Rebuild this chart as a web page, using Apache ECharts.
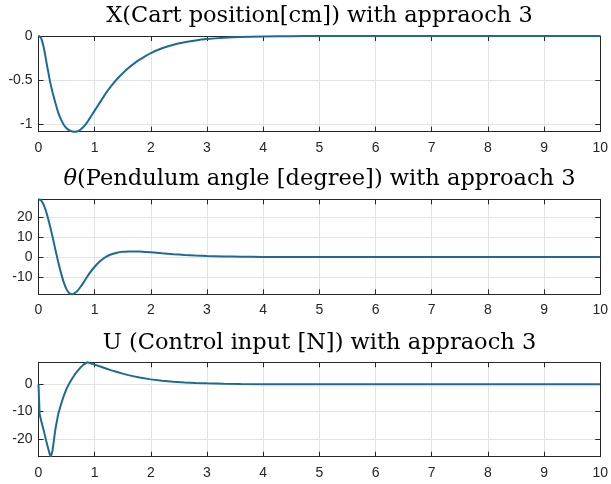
<!DOCTYPE html>
<html>
<head>
<meta charset="utf-8">
<script src="https://cdn.jsdelivr.net/npm/echarts@6/dist/echarts.min.js"></script>
<style>
  html, body { margin: 0; padding: 0; background: #fff; }
  #chart { width: 611px; height: 484px; }
</style>
</head>
<body>
<div id="chart"></div>
<script>
// Simulation time [s]
const timeS = [0, 0.02, 0.05, 0.1, 0.15, 0.2, 0.22, 0.25, 0.3, 0.35, 0.4, 0.45, 0.5, 0.55, 0.6,
  0.65, 0.7, 0.75, 0.8, 0.87, 0.9, 1.0, 1.1, 1.2, 1.3, 1.4, 1.5, 1.6, 1.7, 1.8, 2.0, 2.2, 2.4,
  2.6, 2.8, 3.0, 3.3, 3.6, 4.0, 4.5, 5, 6, 7, 8, 9, 10];

// Cart position [cm]
const cartPosition = [0, -0.005, -0.03, -0.15, -0.33, -0.50, -0.56, -0.64, -0.76, -0.87, -0.95,
  -1.01, -1.05, -1.075, -1.088, -1.09, -1.085, -1.065, -1.035, -0.98, -0.95, -0.85, -0.75, -0.65,
  -0.565, -0.49, -0.425, -0.365, -0.315, -0.27, -0.195, -0.14, -0.10, -0.072, -0.05, -0.035,
  -0.02, -0.011, -0.005, -0.002, -0.001, 0, 0, 0, 0, 0];

// Pendulum angle [degree]
const pendulumAngle = [29.1, 29.0, 28.4, 25.8, 21.6, 16.2, 13.9, 10.2, 3.8, -2.4, -8.0, -12.8,
  -16.3, -18.3, -18.8, -18.1, -16.8, -15.0, -12.9, -9.8, -8.5, -4.9, -2.0, 0.1, 1.4, 2.2, 2.6,
  2.75, 2.8, 2.75, 2.4, 1.9, 1.45, 1.05, 0.75, 0.5, 0.28, 0.15, 0.06, 0.02, 0.01, 0, 0, 0, 0, 0];

// Control input [N]
const controlInput = [0, -11, -13.5, -17.5, -21.8, -25.6, -26.5, -24.2, -16.5, -11, -7.4, -4.2,
  -1.6, 0.4, 2.1, 3.7, 5.0, 6.2, 7.2, 8.05, 7.9, 7.2, 6.5, 5.8, 5.1, 4.5, 3.9, 3.35, 2.9, 2.45,
  1.8, 1.3, 0.95, 0.7, 0.5, 0.36, 0.22, 0.13, 0.06, 0.02, 0.01, 0, 0, 0, 0, 0];

// Tick positions
const timeTicks = [0, 1, 2, 3, 4, 5, 6, 7, 8, 9, 10];
const cartTicks = [-1, -0.5, 0];
const angleTicks = [-10, 0, 10, 20];
const inputTicks = [-20, -10, 0];

// Subplot titles
const titles = [
  'X(Cart position[cm]) with appraoch 3',
  '{m|θ}(Pendulum angle [degree]) with approach 3',
  'U (Control input [N]) with appraoch 3'
];

const lineColor = '#1c6b96';
const axisColor = '#262626';
const gridColor = '#e3e3e3';
const titleFont = 'DejaVu Serif';
const tickFont = 'Liberation Sans';

const panels = [
  { values: cartPosition, ticks: cartTicks, top: 36, height: 95.7, titleTop: 4 },
  { values: pendulumAngle, ticks: angleTicks, top: 199.3, height: 95, titleTop: 167.4 },
  { values: controlInput, ticks: inputTicks, top: 362.3, height: 94.4, titleTop: 330.7 }
];

const grid = [], xAxis = [], yAxis = [], series = [], title = [];

panels.forEach((p, i) => {
  grid.push({ left: 38.5, right: 10.5, top: p.top, height: p.height, containLabel: false });
  const yMin = Math.min(...p.values);
  const yMax = Math.max(...p.values);

  title.push({
    text: titles[i],
    left: 319.5,
    top: p.titleTop,
    textAlign: 'center',
    padding: 0,
    textStyle: {
      fontFamily: titleFont,
      fontSize: 22.5,
      fontWeight: 'normal',
      color: '#000',
      lineHeight: 24,
      rich: { m: { fontFamily: titleFont, fontSize: 22.5, fontStyle: 'italic', color: '#000' } }
    }
  });

  const frameLine = { show: true, onZero: false, lineStyle: { color: axisColor, width: 1 } };

  const xBase = {
    type: 'value', gridIndex: i, min: 0, max: 10,
    axisLine: frameLine,
    axisTick: { show: true, inside: true, length: 5, customValues: timeTicks,
      lineStyle: { color: axisColor, width: 1 } }
  };
  xAxis.push(Object.assign({}, xBase, {
    position: 'bottom',
    axisLabel: { show: true, customValues: timeTicks, margin: 9, color: axisColor,
      fontFamily: tickFont, fontSize: 14 },
    splitLine: { show: true, lineStyle: { color: gridColor, width: 1 } }
  }));
  xAxis.push(Object.assign({}, xBase, {
    position: 'top',
    axisLabel: { show: false },
    splitLine: { show: false }
  }));

  const yBase = {
    type: 'value', gridIndex: i, min: yMin, max: yMax,
    axisLine: frameLine,
    axisTick: { show: true, inside: true, length: 5, customValues: p.ticks,
      lineStyle: { color: axisColor, width: 1 } }
  };
  yAxis.push(Object.assign({}, yBase, {
    position: 'left',
    axisLabel: { show: true, customValues: p.ticks, margin: 6, color: axisColor,
      fontFamily: tickFont, fontSize: 14 },
    splitLine: { show: true, lineStyle: { color: gridColor, width: 1 } }
  }));
  yAxis.push(Object.assign({}, yBase, {
    position: 'right',
    axisLabel: { show: false },
    splitLine: { show: false }
  }));

  series.push({
    type: 'line',
    xAxisIndex: 2 * i,
    yAxisIndex: 2 * i,
    data: timeS.map((t, k) => [t, p.values[k]]),
    showSymbol: false,
    smooth: i === 2 ? false : 0.2,
    clip: false,
    lineStyle: { color: lineColor, width: 2 },
    z: 5
  });
});

const chart = echarts.init(document.getElementById('chart'), null, { renderer: 'canvas' });
chart.setOption({
  animation: false,
  backgroundColor: '#fff',
  title, grid, xAxis, yAxis, series
});
</script>
</body>
</html>
